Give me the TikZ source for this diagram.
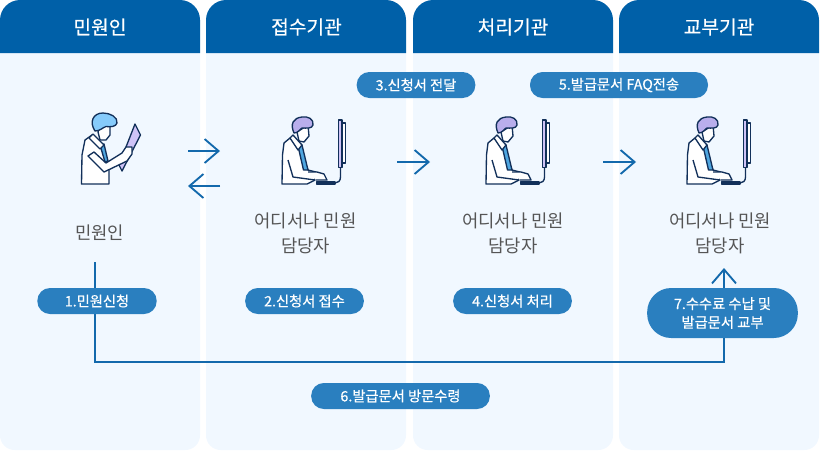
\documentclass[tikz,border=0pt]{standalone}
\usepackage{fontspec}
\setmainfont{Noto Sans CJK KR}
\newfontfamily\medfont[FakeBold=0.5]{Noto Sans CJK KR}
\usetikzlibrary{arrows.meta, positioning}

\definecolor{headblue}{HTML}{0060A8}
\definecolor{bodyblue}{HTML}{F1F8FF}
\definecolor{pillblue}{HTML}{2A7FBF}
\definecolor{flowblue}{HTML}{1369AC}
\definecolor{inkblue}{HTML}{12305A}
\definecolor{textgray}{HTML}{555555}
\definecolor{hairviolet}{HTML}{B9AEEC}
\definecolor{hairsky}{HTML}{86CBFB}
\definecolor{tiesky}{HTML}{4FA6E0}
\definecolor{screenviolet}{HTML}{CFC3F7}

\tikzset{
  clerkicon/.pic={
    % body
    \draw[fill=white] (22,84) -- (22.5,55) -- (24,43) -- (30,38) -- (39,47) -- (48,70) -- (56,72) -- (55,80) -- (47,84) -- cycle;
    \draw (28,60) -- (33,77) -- (55,80);
    \draw[fill=tiesky] (38,46) -- (42,45) -- (48,70) -- (43.5,70) -- cycle;
    \draw[fill=white] (30,38) -- (33,35) -- (42,45) -- (38,50) -- cycle;
    % arm and hand
    \draw[fill=white] (48,72) -- (57,72) -- (64,74) -- (67,80) -- (56,80);
    % face and hair
    \draw[fill=white] (37,32) -- (48,25) -- (49,36) -- (44,42) -- (39,41) -- cycle;
    \draw[fill=hairviolet] (34,33) .. controls (30,24) and (33,18) .. (42,17) .. controls (48,16) and (54,19) .. (53,25) .. controls (52,29) and (46,28) .. (42,28) .. controls (39,30) and (38,33) .. (34,33) -- cycle;
    % keyboard and monitor
    \draw[fill=textgray] (56.5,82) rectangle (75,84);
    \draw[fill=white] (82,23) rectangle (85.5,63);
    \draw[fill=screenviolet] (78.5,20) rectangle (82,67.5);
    \draw (80.5,67.5) -- (80.5,77) .. controls (80.5,81) and (78,83) .. (75,83);
  },
  readericon/.pic={
    % body
    \draw[fill=white] (21.5,94) -- (22,65) -- (25,50) -- (32,45) -- (42,58) -- (47,72) -- (49,80) -- (49,94) -- cycle;
    \draw[fill=tiesky] (40,55) -- (44,54) -- (48,71) -- (45,72) -- cycle;
    \draw[fill=white] (29,48) -- (33,44) -- (44,55) -- (40,59) -- cycle;
    % paper
    \draw[fill=screenviolet] (75,34) -- (80.5,45) -- (62,81) -- (59,75) -- cycle;
    % arm and hand
    \draw[fill=white] (44,82) -- (28,66) -- (34,62) -- (46,73) -- (62,63) -- (66,57) -- (72,57) -- (72,64) -- (67,71) -- cycle;
    % face and hair
    \draw[fill=white] (38,42) -- (39,38) -- (50,32) -- (50,45) -- (46,50) -- (40,50) -- cycle;
    \draw[fill=hairsky] (35,41) .. controls (29,32) and (33,23) .. (43,23) .. controls (50,23) and (58,27) .. (57,33) .. controls (56,37) and (50,37) .. (46,36.5) .. controls (42,38) and (40,41) .. (35,41) -- cycle;
  }
}

\begin{document}
\begin{tikzpicture}[
  x=0.75pt, y=-0.75pt,
  head/.style={text=white, font=\fontsize{14.4}{16}\medfont},
  pill/.style={fill=pillblue, text=white, rounded corners=9.5pt, align=center, inner sep=0pt, font=\fontsize{10.7}{14}\medfont},
  desk/.style={text=textgray, align=center, font=\fontsize{13.3}{18.9}\selectfont},
  flow/.style={draw=flowblue, line width=1.4pt, -{Straight Barb[length=10.5pt, width=18pt, line width=1.4pt]}}
]
  \useasboundingbox (0,0) rectangle (820,450);

  % columns
  \fill[bodyblue, rounded corners=11pt] (0,53) -- (0,450) -- (200,450) -- (200,53);
  \fill[bodyblue, rounded corners=11pt] (206,53) -- (206,450) -- (406,450) -- (406,53);
  \fill[bodyblue, rounded corners=11pt] (413,53) -- (413,450) -- (613,450) -- (613,53);
  \fill[bodyblue, rounded corners=11pt] (619,53) -- (619,450) -- (819,450) -- (819,53);
  \fill[headblue, rounded corners=15pt] (0,53) -- (0,0) -- (200,0) -- (200,53);
  \fill[headblue, rounded corners=15pt] (206,53) -- (206,0) -- (406,0) -- (406,53);
  \fill[headblue, rounded corners=15pt] (413,53) -- (413,0) -- (613,0) -- (613,53);
  \fill[headblue, rounded corners=15pt] (619,53) -- (619,0) -- (819,0) -- (819,53);
  \node[head] (head1) at (100,27) {민원인};
  \node[head] (head2) at (306.5,27) {접수기관};
  \node[head] (head3) at (513,27) {처리기관};
  \node[head] (head4) at (719,27) {교부기관};

  % people
  \pic[draw=inkblue, line width=1pt, line join=round] at (60,90) {readericon};
  \pic[draw=inkblue, line width=1pt, line join=round] at (260,100) {clerkicon};
  \pic[draw=inkblue, line width=1pt, line join=round] at (464,100) {clerkicon};
  \pic[draw=inkblue, line width=1pt, line join=round] at (665,100) {clerkicon};

  \node[desk] (citizen) at (99.5,233) {민원인};
  \node[desk] (desk2) at (305.5,233) {어디서나 민원\\담당자};
  \node[desk] (desk3) at (513,233) {어디서나 민원\\담당자};
  \node[desk] (desk4) at (720,233) {어디서나 민원\\담당자};

  % arrows
  \coordinate (send1) at (188,151);
  \coordinate (send2) at (220,151);
  \coordinate (back1) at (220,186);
  \coordinate (back2) at (188,186);
  \coordinate (pass1) at (397,162);
  \coordinate (pass2) at (430,162);
  \coordinate (give1) at (603,162);
  \coordinate (give2) at (636,162);
  \coordinate (start) at (95,262);
  \coordinate (turn1) at (95,362);
  \coordinate (turn2) at (724,362);
  \coordinate (end) at (724,268);
  \draw[flow] (send1) -- (send2);
  \draw[flow] (back1) -- (back2);
  \draw[flow] (pass1) -- (pass2);
  \draw[flow] (give1) -- (give2);
  \draw[flow] (start) -- (turn1) -- (turn2) -- (end);

  % steps
  \node[pill, minimum width=89.5pt, minimum height=19.5pt] (step1) at (97,301) {1.민원신청};
  \node[pill, minimum width=89pt, minimum height=19.5pt] (step2) at (304.5,301) {2.신청서 접수};
  \node[pill, minimum width=89pt, minimum height=19.5pt] (step3) at (416,85) {3.신청서 전달};
  \node[pill, minimum width=89pt, minimum height=19.5pt] (step4) at (512.5,301) {4.신청서 처리};
  \node[pill, minimum width=133.5pt, minimum height=19.5pt] (step5) at (619,85) {5.발급문서 FAQ전송};
  \node[pill, minimum width=134pt, minimum height=19.5pt] (step6) at (400.5,396) {6.발급문서 방문수령};
  \node[pill, rounded corners=18pt, minimum width=113pt, minimum height=37.5pt] (step7) at (722.5,313) {7.수수료 수납 및\\발급문서 교부};
\end{tikzpicture}
\end{document}
